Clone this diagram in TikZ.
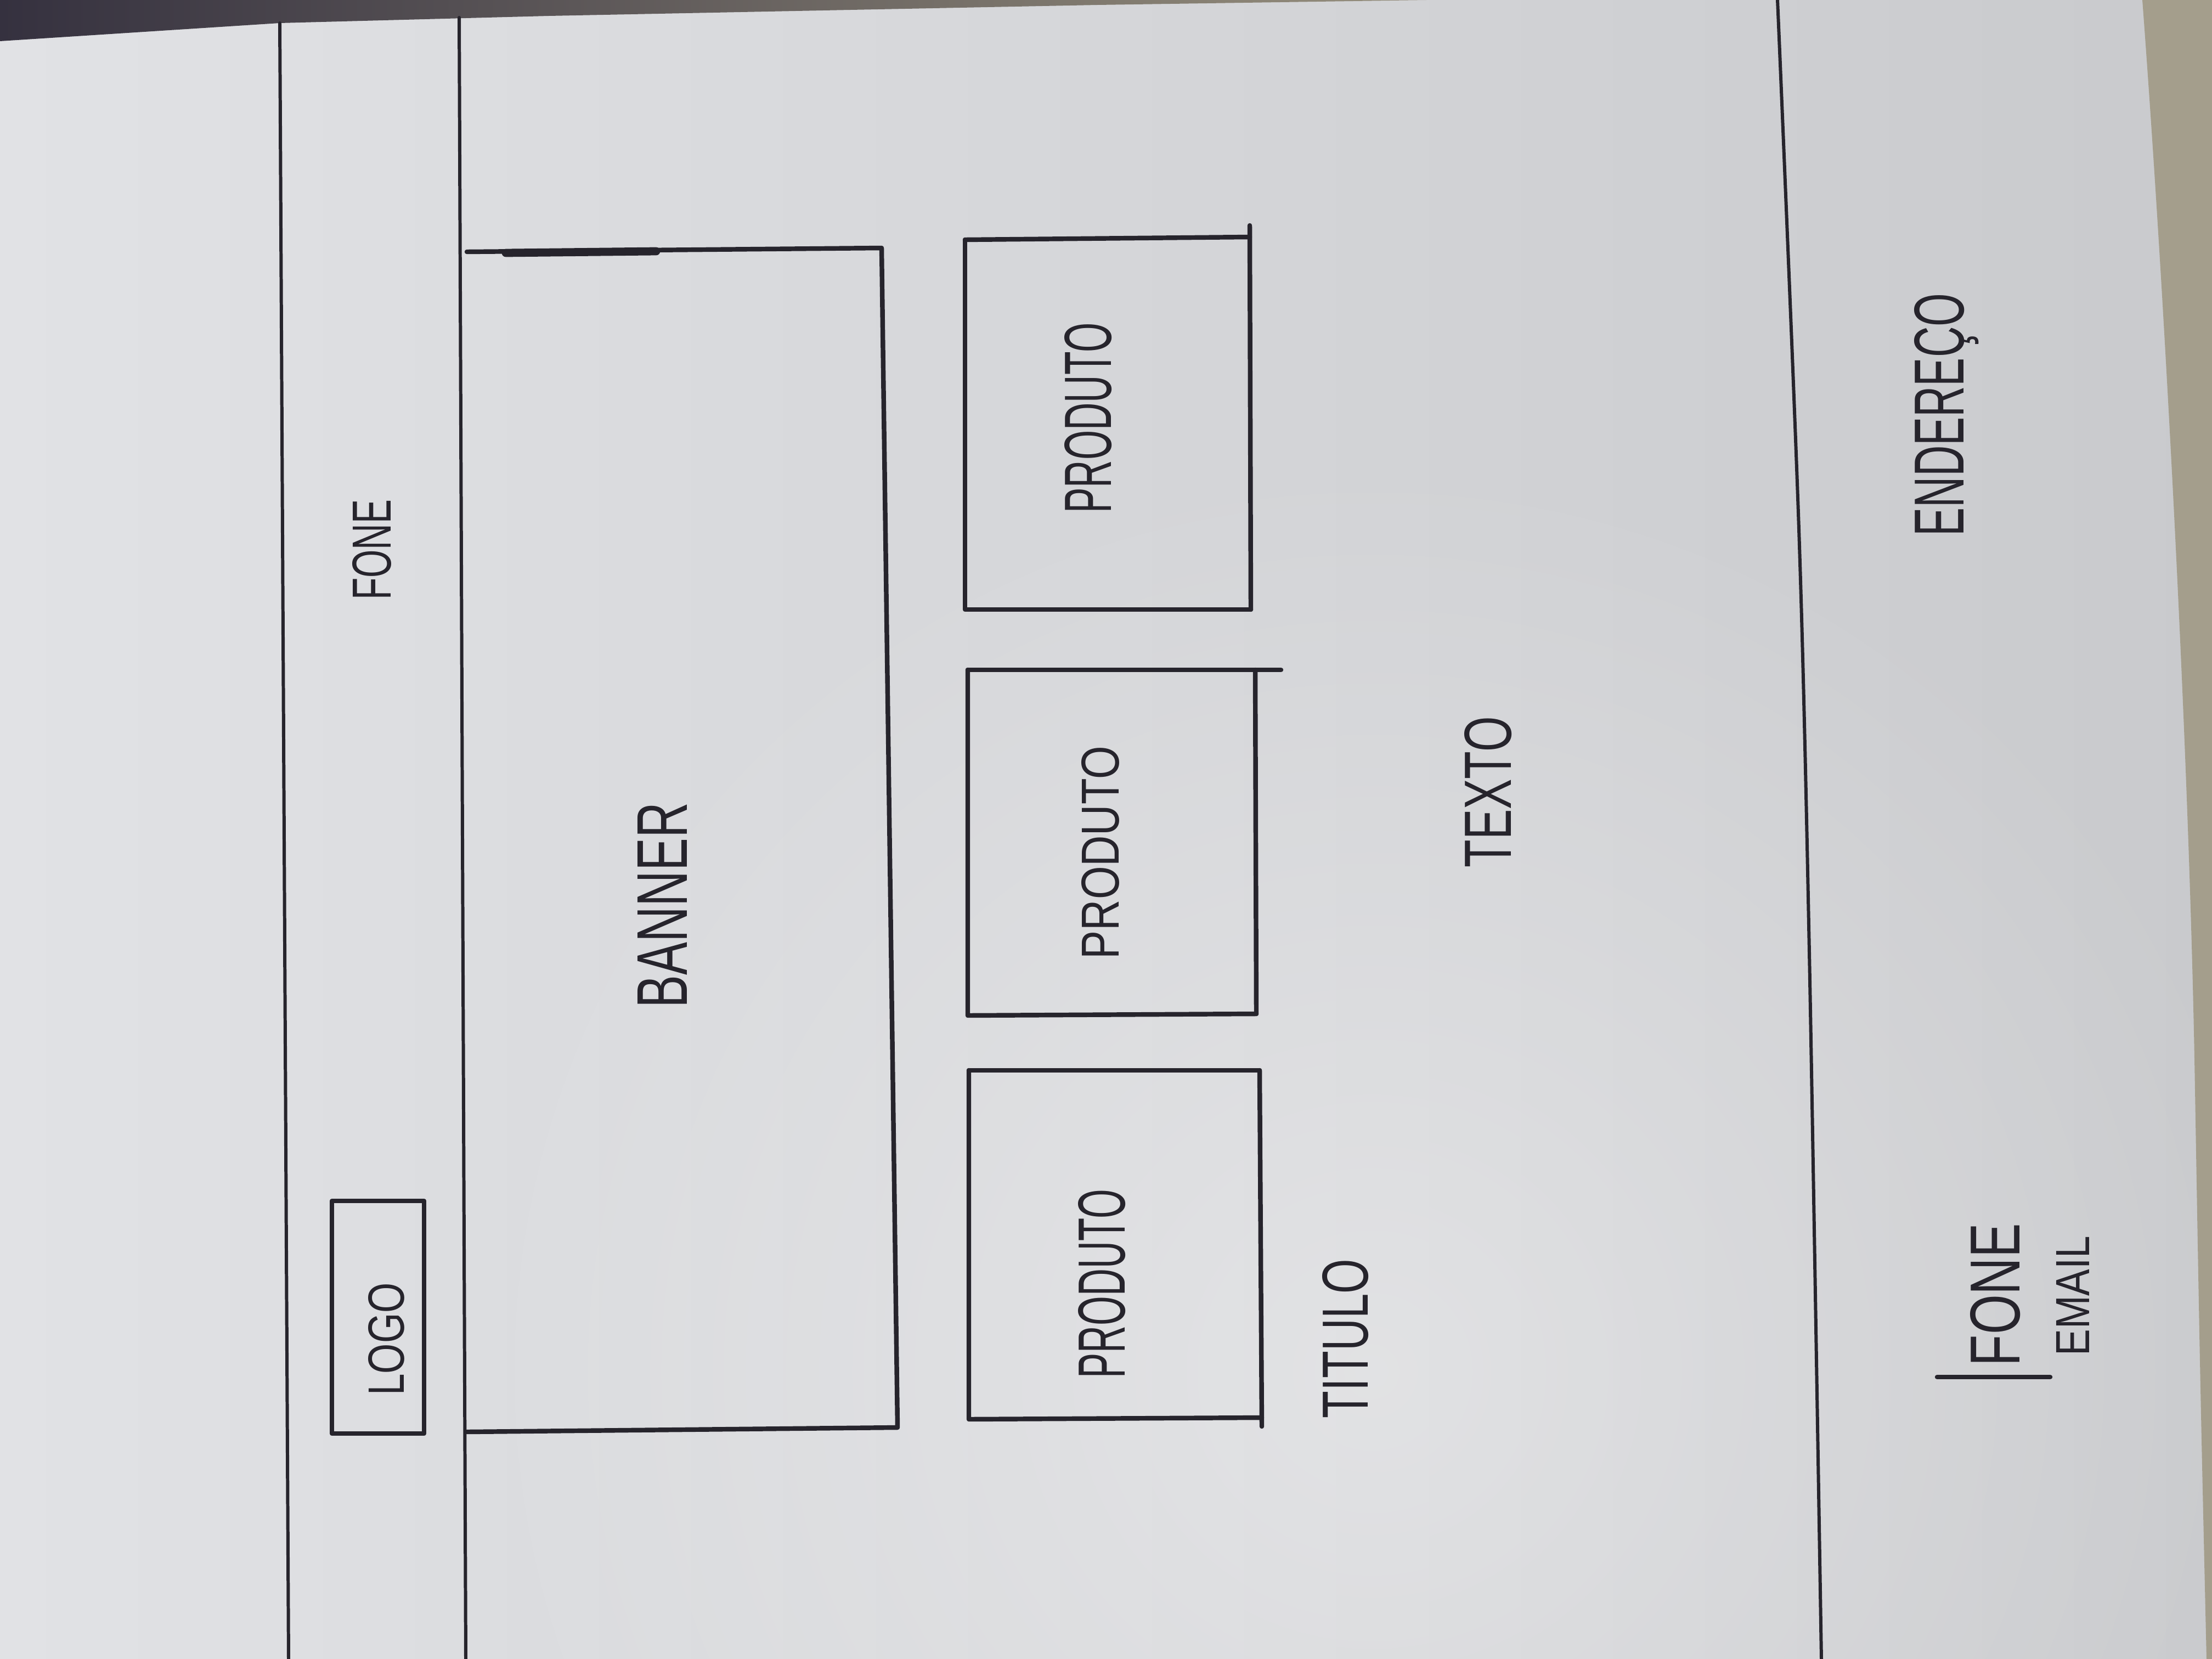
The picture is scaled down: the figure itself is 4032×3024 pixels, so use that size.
\documentclass[tikz,border=0pt]{standalone}
\usepackage{fontspec}
\setmainfont{Liberation Sans}
\usetikzlibrary{fadings}

\definecolor{paper}{HTML}{E1E2E5}
\definecolor{paperdark}{HTML}{C9CACD}
\definecolor{ink}{HTML}{26242C}
\definecolor{deskdark}{HTML}{35313F}
\definecolor{desklight}{HTML}{968F7D}
\definecolor{deskside}{HTML}{A49E8C}

% soft round light falling on the sheet
\tikzfading[name=softglow, inner color=transparent!0, outer color=transparent!100]

% hand-lettered caption: target width, target cap height, text
\newcommand{\sketchword}[3]{\resizebox{#1}{#2}{\fontsize{32}{32}\selectfont #3}}

\begin{document}
\begin{tikzpicture}[x=0.01cm, y=-0.01cm,
  rule/.style={draw=ink, line width=1.7pt, line cap=round},
  boxline/.style={draw=ink, line width=2.4pt, line cap=round, line join=round},
  word/.style={text=ink, rotate=90, inner sep=0pt, anchor=center},
]
\useasboundingbox (0,0) rectangle (4032,3024);

% sheet of paper and the desk around it
\shade[left color=paper, right color=paperdark] (0,0) rectangle (4032,3024);
\fill[white, opacity=0.35, path fading=softglow] (2500,2500) circle (1700);
\shade[left color=deskdark, right color=desklight]
  (0,0) -- (2600,0) -- (2000,9) -- (1000,29) -- (510,42) -- (0,75) -- cycle;
\fill[deskside]
  (3905,0) .. controls (3950,600) and (3990,1400) .. (4000,1930)
  .. controls (4010,2500) .. (4022,3024) -- (4032,3024) -- (4032,0) -- cycle;

% page frame: top edge, header bottom, footer top
\draw[rule] (510,42) -- (526,3024);
\draw[rule] (837,32) -- (849,3024);
\draw[rule] plot[smooth] coordinates {(3240,0) (3279,965) (3298,1737) (3320,3024)};

% logo box
\draw[boxline] (605,2189) rectangle (773,2613);

% banner
\draw[boxline] (851,459) -- (1607,452) -- (1636,2602) -- (851,2610);
\draw[ink, line width=4.2pt, line cap=round] (922,461) -- (1196,458);

% product boxes
\draw[boxline] (1759,437) -- (2278,432);
\draw[boxline] (1759,437) -- (1759,1111) -- (2280,1111);
\draw[boxline] (2278,411) -- (2280,1111);

\draw[boxline] (1764,1221) -- (2335,1221);
\draw[boxline] (1764,1221) -- (1764,1851) -- (2290,1848);
\draw[boxline] (2288,1221) -- (2290,1848);

\draw[boxline] (1766,1951) -- (2296,1951);
\draw[boxline] (1766,1951) -- (1766,2587) -- (2300,2584);
\draw[boxline] (2296,1951) -- (2300,2600);

% bar before the footer phone
\draw[boxline] (3531,2510) -- (3737,2510);

% captions
\node[word] (fone)     at (678,1002)  {\sketchword{1.83cm}{0.70cm}{FONE}};
\node[word] (logo)     at (704,2441)  {\sketchword{2.05cm}{0.65cm}{LOGO}};
\node[word] (banner)   at (1207,1650) {\sketchword{3.74cm}{0.90cm}{BANNER}};
\node[word] (produtoa) at (1984,762)  {\sketchword{3.47cm}{0.85cm}{PRODUTO}};
\node[word] (produtob) at (2006,1554) {\sketchword{3.88cm}{0.68cm}{PRODUTO}};
\node[word] (produtoc) at (2009,2340) {\sketchword{3.44cm}{0.85cm}{PRODUTO}};
\node[word] (titulo)   at (2453,2440) {\sketchword{2.90cm}{0.83cm}{TITULO}};
\node[word] (texto)    at (2713,1444) {\sketchword{2.75cm}{0.85cm}{TEXTO}};
\node[word] (endereco) at (3548,756)  {\sketchword{4.42cm}{0.90cm}{ENDEREÇO}};
\node[word] (foneb)    at (3637,2360) {\sketchword{2.60cm}{0.90cm}{FONE}};
\node[word] (email)    at (3778,2362) {\sketchword{2.19cm}{0.60cm}{EMAIL}};
\end{tikzpicture}
\end{document}
